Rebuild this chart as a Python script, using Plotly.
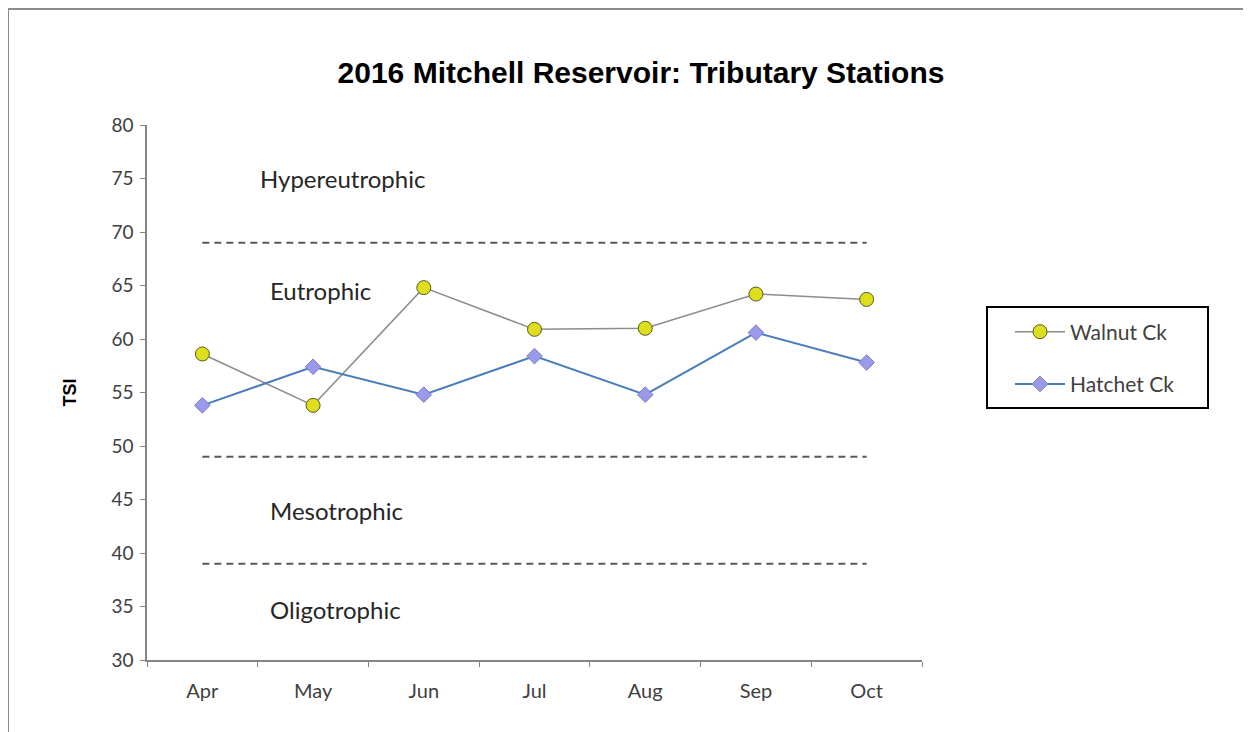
import plotly.graph_objects as go

months = ["Apr", "May", "Jun", "Jul", "Aug", "Sep", "Oct"]
walnut = [58.6, 53.8, 64.8, 60.9, 61.0, 64.2, 63.7]
hatchet = [53.8, 57.4, 54.8, 58.4, 54.8, 60.6, 57.8]
thresholds = [69, 49, 39]
zone_labels = ["Hypereutrophic", "Eutrophic", "Mesotrophic", "Oligotrophic"]
zone_y = [75, 64.5, 44, 34.7]

W, H = 1251, 732
OFF = 8  # page offset of the figure in the screenshot
L, R, T, B = 147 - OFF, 922 - OFF, 125 - OFF, 660 - OFF

fig = go.Figure()
for t in thresholds:
    fig.add_trace(go.Scatter(x=months, y=[t] * len(months), mode="lines",
                             line=dict(color="#595959", width=2, dash="7px,5px"),
                             showlegend=False, hoverinfo="skip"))

fig.add_trace(go.Scatter(x=months, y=walnut, name="Walnut Ck", mode="lines+markers",
                         legendgroup="a",
                         line=dict(color="#8c8c8c", width=1.5),
                         marker=dict(symbol="circle", size=14, color="#dede1e",
                                     line=dict(color="#5a5a1a", width=1))))
fig.add_trace(go.Scatter(x=months, y=hatchet, name="Hatchet Ck", mode="lines+markers",
                         legendgroup="b",
                         line=dict(color="#4a7ebb", width=2),
                         marker=dict(symbol="diamond", size=12, color="#9a9ae8",
                                     line=dict(color="#7a7ad0", width=1))))

for i, (lab, yv) in enumerate(zip(zone_labels, zone_y)):
    fig.add_annotation(x=0.5 if i == 0 else 0.59, y=yv, xref="x", yref="y", text=lab,
                       showarrow=False, xanchor="left", yanchor="middle",
                       font=dict(family="Lato, Open Sans, sans-serif", size=24, color="#262626"))


def px(x):
    return (x - L) / (R - L)


def py(y):
    return (B - y) / (B - T)


# outer frame (figure coords)
fig.add_shape(type="rect", xref="paper", yref="paper",
              x0=px(0), x1=px(1240), y0=py(H + 5), y1=py(1),
              line=dict(color="#8c8c8c", width=2), layer="below")
# legend frame
fig.add_shape(type="rect", xref="paper", yref="paper",
              x0=px(987 - OFF), x1=px(1208 - OFF), y0=py(408 - OFF), y1=py(307 - OFF),
              line=dict(color="#000000", width=2), fillcolor="white", layer="below")

fig.update_layout(
    width=W, height=H,
    margin=dict(l=L, r=W - R, t=T, b=H - B),
    paper_bgcolor="white", plot_bgcolor="rgba(0,0,0,0)",
    title=dict(text="<b>2016 Mitchell Reservoir: Tributary Stations</b>",
               x=(641 - OFF) / W, xanchor="center", y=1 - (72 - OFF) / H, yanchor="middle",
               font=dict(family="Liberation Sans, Arial, sans-serif", size=30, color="#000000")),
    showlegend=True,
    legend=dict(x=px(1010 - OFF), y=py(358 - OFF), xanchor="left", yanchor="middle",
                borderwidth=0, bgcolor="rgba(0,0,0,0)",
                font=dict(family="Lato, Open Sans, sans-serif", size=21, color="#404040"),
                tracegroupgap=22, itemwidth=50),
    font=dict(family="Lato, Open Sans, sans-serif"),
)
fig.update_xaxes(type="category", categoryorder="array", categoryarray=months,
                 range=[-0.5, 6.5], showgrid=False, showline=True, linecolor="#868686",
                 linewidth=1.5, ticks="outside", tickson="boundaries", ticklen=5,
                 tickcolor="#868686", tickfont=dict(size=20, color="#404040"), zeroline=False,
                 ticklabelstandoff=12)
fig.update_yaxes(range=[30, 80], dtick=5, showgrid=False, showline=True, linecolor="#868686",
                 linewidth=1.5, ticks="outside", ticklen=5, tickcolor="#868686",
                 tickfont=dict(size=19, color="#404040"), zeroline=False, ticklabelstandoff=3,
                 title=dict(text="<b>TSI</b>", standoff=30,
                            font=dict(family="Liberation Sans, Arial, sans-serif", size=18, color="#000000")))

fig.write_html("out.html")
